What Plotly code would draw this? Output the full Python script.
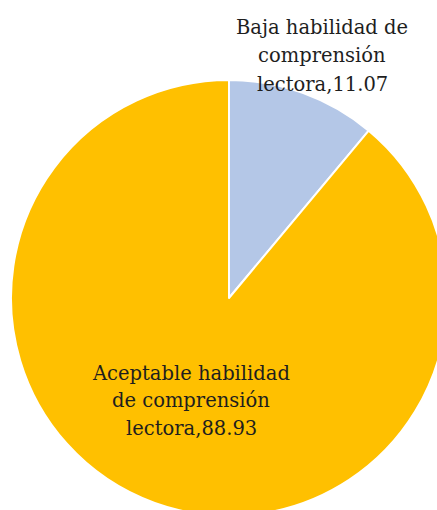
import plotly.graph_objects as go

labels = ["Baja habilidad de comprensión lectora", "Aceptable habilidad de comprensión lectora"]
values = [11.07, 88.93]
colors = ["#B4C7E7", "#FFC000"]
label_lines = [
    ["Baja habilidad de", "comprensión", "lectora,{v}"],
    ["Aceptable habilidad", "de comprensión", "lectora,{v}"],
]

W, H = 458, 516
cx, cy, r = 229, 298, 218

fig = go.Figure(go.Pie(
    labels=labels, values=values, sort=False, direction="clockwise", rotation=0,
    marker=dict(colors=colors, line=dict(color="white", width=2)),
    textinfo="none", hoverinfo="label+value", showlegend=False,
    domain=dict(x=[(cx - r) / W, (cx + r) / W], y=[(H - cy - r) / H, (H - cy + r) / H]),
))

positions = [(322, [28, 56, 85]), (191, [373, 400, 428])]
for (px, ys), lines, v in zip(positions, label_lines, values):
    for y, t in zip(ys, lines):
        fig.add_annotation(x=px / W, y=1 - y / H, xref="paper", yref="paper",
                           text=t.format(v=f"{v:.2f}"), showarrow=False,
                           font=dict(family="DejaVu Serif", size=19.5, color="#1e1e1e"),
                           xanchor="center", yanchor="middle")

fig.update_layout(width=W, height=H, margin=dict(l=0, r=0, t=0, b=0),
                  paper_bgcolor="white", plot_bgcolor="white")
fig.write_html("out.html", config={"displayModeBar": False},
               post_script="document.body.style.margin='0';document.body.style.overflow='hidden';")
